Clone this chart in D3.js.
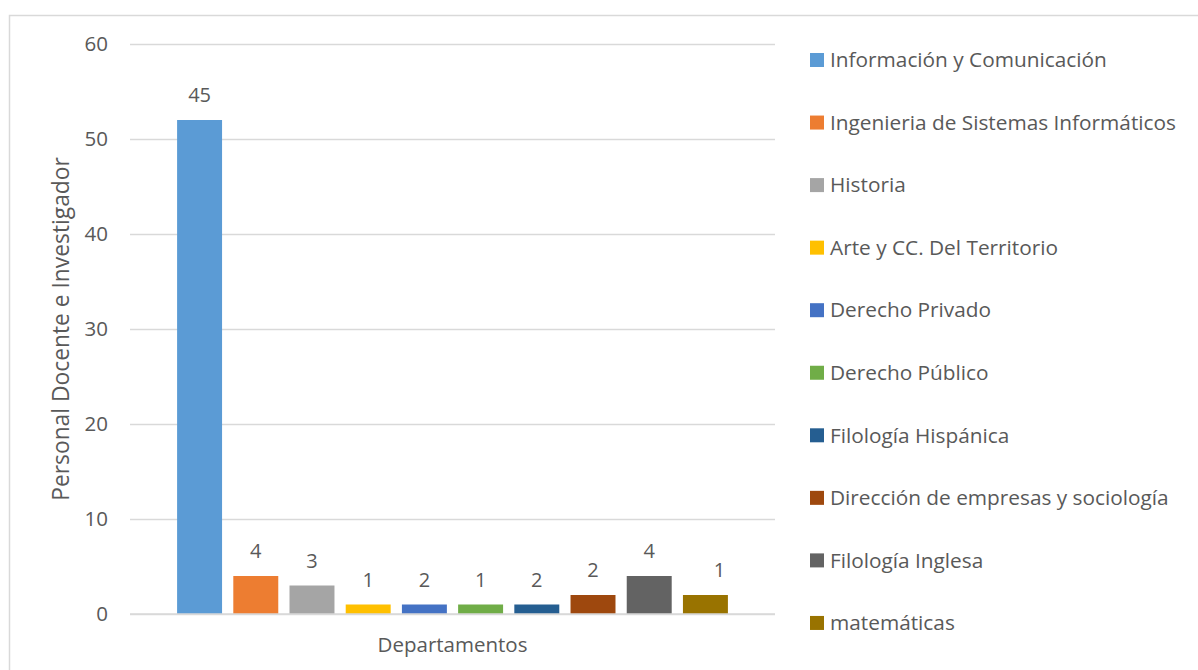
<!DOCTYPE html>
<html><head><meta charset="utf-8">
<script src="https://cdn.jsdelivr.net/npm/d3@7"></script>
<style>
html,body{margin:0;padding:0;background:#fff;}
svg{display:block;font-family:"Open Sans","Noto Sans",sans-serif;}
</style></head>
<body>
<svg id="chart" width="1198" height="670"></svg>
<script>
const categories = ["Departamentos"];
const series = ["Información y Comunicación","Ingenieria de Sistemas Informáticos","Historia","Arte y CC. Del Territorio","Derecho Privado","Derecho Público","Filología Hispánica","Dirección de empresas y sociología","Filología Inglesa","matemáticas"];
const barValues = [52, 4, 3, 1, 1, 1, 1, 2, 4, 2];
const dataLabels = ["45","4","3","1","2","1","2","2","4","1"];
const colors = ["#5B9BD5","#ED7D31","#A5A5A5","#FFC000","#4472C4","#70AD47","#255E91","#9E480E","#636363","#997300"];
const yTicks = [0,10,20,30,40,50,60];

const svg = d3.select("#chart");
const textColor = "#595959";
const FONT = "'Open Sans','Noto Sans',sans-serif";

// frame
svg.append("rect").attr("x",9.5).attr("y",15.5).attr("width",1300).attr("height",700)
  .attr("fill","none").attr("stroke","#D9D9D9").attr("stroke-width",1.5);

const plot = {left:130, right:775, top:44, bottom:614};
const y = d3.scaleLinear().domain([0,60]).range([plot.bottom, plot.top]);
const x0 = d3.scaleBand().domain(categories).range([plot.left, plot.right]).paddingInner(0).paddingOuter(0.0855);
const x1 = d3.scaleBand().domain(series).range([0, x0.bandwidth()]).paddingInner(0.2).paddingOuter(0);

// gridlines
const yAxis = d3.axisLeft(y).tickValues(yTicks).tickSize(-(plot.right-plot.left)).tickPadding(22);
const ga = svg.append("g").attr("transform",`translate(${plot.left},0)`).call(yAxis);
ga.select(".domain").remove();
ga.selectAll(".tick line").attr("stroke","#D9D9D9").attr("stroke-width",1.3);
ga.selectAll(".tick text").attr("fill",textColor).style("font-size","20.5px").style("font-family",FONT);

// bars
const g = svg.append("g").attr("transform",`translate(${x0(categories[0])},0)`);
g.selectAll("rect.bar").data(series).enter().append("rect")
  .attr("class","bar")
  .attr("x",d=>x1(d)).attr("width",x1.bandwidth())
  .attr("y",(d,i)=>y(barValues[i])).attr("height",(d,i)=>y(0)-y(barValues[i]))
  .attr("fill",(d,i)=>colors[i]);

// baseline
svg.append("line").attr("x1",plot.left).attr("x2",plot.right).attr("y1",y(0)).attr("y2",y(0))
  .attr("stroke","#D9D9D9").attr("stroke-width",1.3);

// data labels
g.selectAll("text.lbl").data(series).enter().append("text")
  .attr("class","lbl")
  .attr("x",(d,i)=>x1(d)+x1.bandwidth()/2 + (i===series.length-1?14:0))
  .attr("y",(d,i)=>y(barValues[i])-25)
  .attr("dy","0.35em")
  .attr("text-anchor","middle").attr("fill",textColor).style("font-size","20px")
  .text((d,i)=>dataLabels[i]);

// axis titles
svg.append("text").attr("x",(plot.left+plot.right)/2).attr("y",645).attr("dy","0.35em")
  .attr("text-anchor","middle").attr("fill",textColor).style("font-size","20.5px").text("Departamentos");
svg.append("text").attr("transform","translate(61,329) rotate(-90)").attr("dy","0.35em")
  .attr("text-anchor","middle").attr("fill",textColor).style("font-size","22.8px").text("Personal Docente e Investigador");

// legend
const leg = svg.append("g");
const legItems = leg.selectAll("g").data(series).enter().append("g")
  .attr("transform",(d,i)=>`translate(810,${60 + i*62.55})`);
legItems.append("rect").attr("x",0).attr("y",-7).attr("width",14).attr("height",14).attr("fill",(d,i)=>colors[i]);
legItems.append("text").attr("x",20).attr("y",0).attr("dy","0.35em").attr("fill",textColor)
  .style("font-size","20.8px").text(d=>d);
</script>
</body></html>
